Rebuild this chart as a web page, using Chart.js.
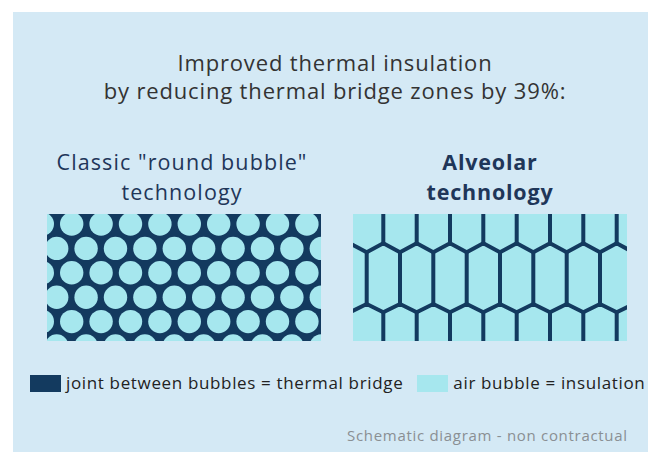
<!DOCTYPE html>
<html>
<head>
<meta charset="utf-8">
<script src="https://cdn.jsdelivr.net/npm/chart.js@4.4.1/dist/chart.umd.min.js"></script>
<style>
  body { margin: 0; width: 648px; height: 452px; position: relative; overflow: hidden; background: #fff; font-family: "Open Sans", Lato, sans-serif; }
  #panel { position: absolute; left: 13px; top: 12px; width: 635px; height: 440px; background: #d4e9f5; }
  .abs { position: absolute; }
  #title { left: 35px; width: 600px; top: 48px; text-align: center; color: #333; font-size: 22px; letter-spacing: 0.85px; line-height: 28px; }
  .sub { top: 147px; width: 320px; text-align: center; color: #1f3659; font-size: 21.5px; letter-spacing: 1.1px; line-height: 30px; }
  #sub-left { left: 22px; }
  #sub-right { left: 330px; font-weight: bold; letter-spacing: 0.8px; }
  canvas.swatch { position: absolute; top: 214px; }
  #legend { left: 30px; top: 371px; font-size: 17px; letter-spacing: 0.65px; color: #222; white-space: nowrap; }
  #legend span.box { display: inline-block; width: 31px; height: 17px; vertical-align: -3px; margin-right: 5px; }
  #note { left: 347px; top: 425px; font-size: 15px; letter-spacing: 0.7px; color: #8a8f93; white-space: nowrap; }
</style>
</head>
<body>
<div id="panel"></div>
<div id="title" class="abs">Improved thermal insulation<br>by reducing thermal bridge zones by 39%:</div>
<div id="sub-left" class="abs sub">Classic "round bubble"<br>technology</div>
<div id="sub-right" class="abs sub">Alveolar<br>technology</div>
<canvas id="roundChart" class="swatch" width="274" height="127" style="left:47px"></canvas>
<canvas id="alveolarChart" class="swatch" width="274" height="127" style="left:353px"></canvas>
<div id="legend" class="abs"><span class="box" style="background:#133a5f"></span>joint between bubbles = thermal bridge<span class="box" style="background:#a6e7ee;margin-left:14px"></span>air bubble = insulation</div>
<div id="note" class="abs">Schematic diagram - non contractual</div>
<script>
// colours
var jointColor = '#133a5f';
var airColor = '#a6e7ee';

// round bubble swatch, units = px of the 274 x 127 swatch
var bubbleRowY = [10, 34.4, 58.8, 83.2, 107.6, 132];
var bubbleColA = [-4.7, 24.7, 54.1, 83.5, 112.9, 142.3, 171.7, 201.1, 230.5, 259.9];
var bubbleColB = [9.7, 39.1, 68.5, 97.9, 127.3, 156.7, 186.1, 215.5, 244.9, 274.3];

// alveolar swatch
var hexMidX = [-19.6, 13.7, 47, 80.3, 113.7, 147, 180.3, 213.7, 247, 280.3];
var hexTopX = [-3, 30.3, 63.7, 97, 130.3, 163.7, 197, 230.3, 263.7, 297];
var zigTopPeak = 29.3, zigTopValley = 38.3;
var zigBotPeak = 90, zigBotValley = 98.3;
var swatchTop = -5, swatchBottom = 132;

var fillArea = {
    id: 'fillArea',
    beforeDraw: function (chart, args, opts) {
        var a = chart.chartArea;
        chart.ctx.save();
        chart.ctx.fillStyle = opts.color;
        chart.ctx.fillRect(a.left, a.top, a.right - a.left, a.bottom - a.top);
        chart.ctx.restore();
    }
};

function baseOptions(bg) {
    return {
        responsive: false,
        animation: false,
        events: [],
        layout: { padding: 0, autoPadding: false },
        plugins: { legend: { display: false }, tooltip: { enabled: false }, fillArea: { color: bg } },
        scales: {
            x: { type: 'linear', min: 0, max: 274, display: false },
            y: { type: 'linear', min: 0, max: 127, reverse: true, display: false }
        }
    };
}

// bubbles
var bubbles = [];
for (let r = 0; r < bubbleRowY.length; r++) {
    let cols = (r % 2 == 0) ? bubbleColA : bubbleColB;
    for (let c = 0; c < cols.length; c++) {
        bubbles.push({ x: cols[c], y: bubbleRowY[r] });
    }
}

new Chart(document.getElementById('roundChart'), {
    type: 'scatter',
    data: {
        datasets: [{
            label: 'air bubble',
            data: bubbles,
            pointRadius: 11.7,
            pointBorderWidth: 0,
            pointBackgroundColor: airColor,
            clip: 0
        }]
    },
    options: baseOptions(jointColor),
    plugins: [fillArea]
});

// alveolar walls
var topZig = [], botZig = [], walls = [];
for (let i = 0; i < hexTopX.length; i++) {
    topZig.push({ x: hexMidX[i], y: zigTopValley });
    topZig.push({ x: hexTopX[i], y: zigTopPeak });
    botZig.push({ x: hexMidX[i], y: zigBotPeak });
    botZig.push({ x: hexTopX[i], y: zigBotValley });
    // top row and bottom row walls
    walls.push({ x: hexTopX[i], y: swatchTop }, { x: hexTopX[i], y: zigTopPeak }, { x: hexTopX[i], y: null });
    walls.push({ x: hexTopX[i], y: zigBotValley }, { x: hexTopX[i], y: swatchBottom }, { x: hexTopX[i], y: null });
    // middle row walls
    walls.push({ x: hexMidX[i], y: zigTopValley }, { x: hexMidX[i], y: zigBotPeak }, { x: hexMidX[i], y: null });
}

function wallSet(name, pts) {
    return {
        label: name,
        data: pts,
        showLine: true,
        spanGaps: false,
        pointRadius: 0,
        borderWidth: 4,
        borderColor: jointColor,
        borderJoinStyle: 'round',
        borderCapStyle: 'round',
        clip: 0
    };
}

new Chart(document.getElementById('alveolarChart'), {
    type: 'scatter',
    data: {
        datasets: [wallSet('top joints', topZig), wallSet('bottom joints', botZig), wallSet('walls', walls)]
    },
    options: baseOptions(airColor),
    plugins: [fillArea]
});
</script>
</body>
</html>
